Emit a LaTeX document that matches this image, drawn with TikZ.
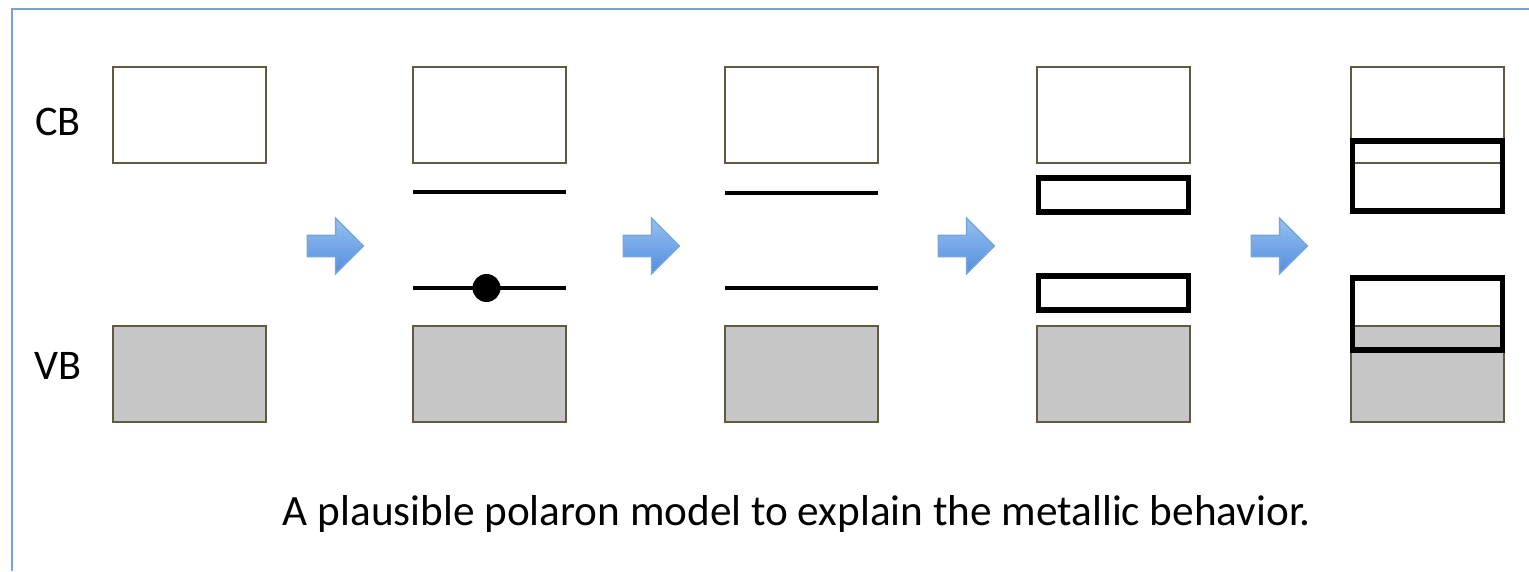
\documentclass[tikz,border=0pt]{standalone}
\usepackage{fontspec}
\setmainfont{Carlito}
\usepackage{tikz}
\usetikzlibrary{positioning,shapes.arrows}

\definecolor{bandline}{RGB}{96,90,66}
\definecolor{bandgray}{RGB}{198,198,198}
\definecolor{framblue}{RGB}{120,162,215}
\definecolor{arrowtop}{RGB}{150,192,240}
\definecolor{arrowbot}{RGB}{82,142,222}
\definecolor{arrowedge}{RGB}{120,165,220}

\begin{document}
\begin{tikzpicture}[
    font=\fontsize{12}{14}\selectfont,
    band/.style={
        draw=bandline,
        line width=0.7pt,
        minimum width=1.53cm,
        minimum height=0.96cm,
        inner sep=0pt,
        outer sep=0pt
    },
    valence_band/.style={
        band,
        fill=bandgray
    },
    polaron_band/.style={
        draw=black,
        line width=1.6pt,
        minimum width=1.5cm,
        inner sep=0pt,
        outer sep=0pt
    },
    level/.style={line width=1.1pt},
    shift_arrow/.style={
        single arrow,
        single arrow head extend=0.17cm,
        minimum height=0.56cm,
        minimum width=0.54cm,
        inner sep=0.1cm,
        top color=arrowtop,
        bottom color=arrowbot,
        draw=arrowedge,
        line width=0.4pt
    }
]
\useasboundingbox (0,0) rectangle (15.29,5.71);

% Cornice
\draw[framblue, line width=0.8pt] (0.12,0) -- (0.12,5.62) -- (15.29,5.62);

% Bande
\node[band] (cb1) at (1.895,4.56) {};
\node[valence_band, below=1.63cm of cb1] (vb1) {};
\node[band, right=1.47cm of cb1] (cb2) {};
\node[valence_band, below=1.63cm of cb2] (vb2) {};
\node[band, right=1.59cm of cb2] (cb3) {};
\node[valence_band, below=1.63cm of cb3] (vb3) {};
\node[band, right=1.59cm of cb3] (cb4) {};
\node[valence_band, below=1.63cm of cb4] (vb4) {};
\node[band, right=1.61cm of cb4] (cb5) {};
\node[valence_band, below=1.63cm of cb5] (vb5) {};

\node[anchor=center] (cb) at (0.58,4.49) {CB};
\node[anchor=center] (vb) at (0.58,2.05) {VB};

% Livelli localizzati
\draw[level] ([yshift=-0.29cm]cb2.south west) -- ([yshift=-0.29cm]cb2.south east);
\draw[level] ([yshift=0.38cm]vb2.north west) -- ([yshift=0.38cm]vb2.north east);
\node[circle, fill=black, inner sep=0pt, minimum size=0.28cm] (el) at ([xshift=-0.03cm, yshift=0.38cm]vb2.north) {};
\draw[level] ([yshift=-0.30cm]cb3.south west) -- ([yshift=-0.30cm]cb3.south east);
\draw[level] ([yshift=0.38cm]vb3.north west) -- ([yshift=0.38cm]vb3.north east);

% Bande polaroniche
\node[polaron_band, minimum height=0.34cm, anchor=north] (pu4) at ([yshift=-0.15cm]cb4.south) {};
\node[polaron_band, minimum height=0.34cm, anchor=south] (pl4) at ([yshift=0.16cm]vb4.north) {};
\node[polaron_band, minimum height=0.70cm, anchor=north] (pu5) at ([yshift=0.22cm]cb5.south) {};
\node[polaron_band, minimum height=0.72cm, anchor=south] (pl5) at ([yshift=-0.24cm]vb5.north) {};

% Frecce tra i pannelli
\node[shift_arrow] (a1) at (3.30,3.25) {};
\node[shift_arrow] (a2) at (6.46,3.25) {};
\node[shift_arrow] (a3) at (9.61,3.25) {};
\node[shift_arrow] (a4) at (12.74,3.25) {};

% Didascalia
\node[font=\fontsize{12.3}{14}\selectfont] (caption) at (7.97,0.57) {A plausible polaron model to explain the metallic behavior.};

\end{tikzpicture}
\end{document}
